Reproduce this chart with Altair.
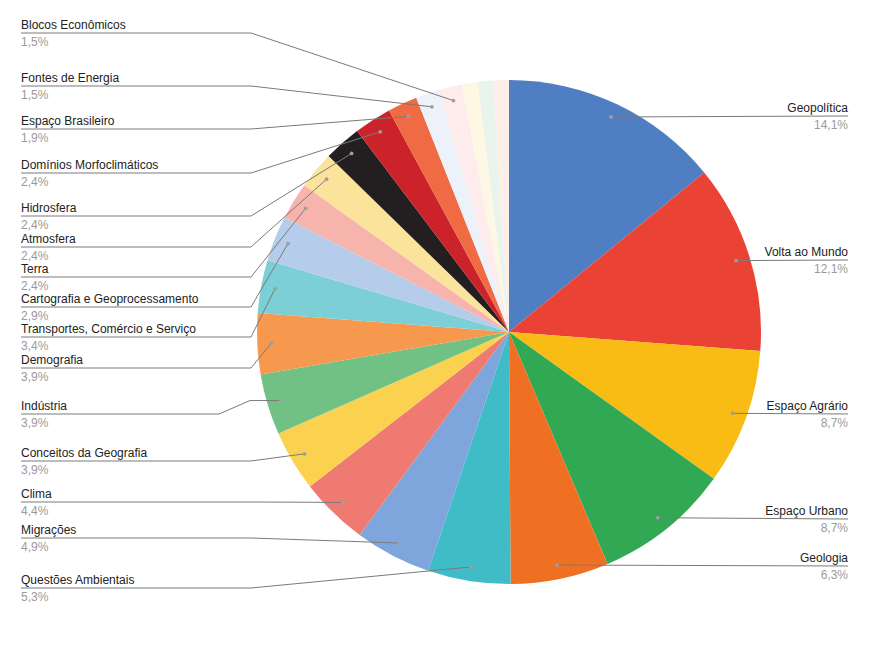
import math
import altair as alt
import pandas as pd

# ---- data ----
categories = [
    "Geopolítica", "Volta ao Mundo", "Espaço Agrário", "Espaço Urbano", "Geologia",
    "Questões Ambientais", "Migrações", "Clima", "Conceitos da Geografia", "Indústria",
    "Demografia", "Transportes, Comércio e Serviço", "Cartografia e Geoprocessamento",
    "Terra", "Atmosfera", "Hidrosfera", "Domínios Morfoclimáticos", "Espaço Brasileiro",
    "Fontes de Energia", "Blocos Econômicos", "Outro A", "Outro B", "Outro C",
]
values = [14.1, 12.1, 8.7, 8.7, 6.3, 5.3, 4.9, 4.4, 3.9, 3.9, 3.9, 3.4, 2.9,
          2.4, 2.4, 2.4, 2.4, 1.9, 1.5, 1.5, 1.0, 1.0, 1.0]
pct_labels = ["14,1%", "12,1%", "8,7%", "8,7%", "6,3%", "5,3%", "4,9%", "4,4%", "3,9%",
              "3,9%", "3,9%", "3,4%", "2,9%", "2,4%", "2,4%", "2,4%", "2,4%", "1,9%",
              "1,5%", "1,5%", "", "", ""]
colors = ["#507ec2", "#ea4335", "#f9bc15", "#31a853", "#f07023", "#40bcc6", "#7fa6dc",
          "#ef7a72", "#fbd24f", "#71c185", "#f6994f", "#7ccfd4", "#b6cceb", "#f6b4ad",
          "#fbe39c", "#231f20", "#cc2229", "#f06a43", "#edf1f9", "#fdeceb", "#fef7e4",
          "#e9f4ec", "#fdefe7"]

# label layout (side, underline y, elbow x for left labels)
label_side = ["R", "R", "R", "R", "R", "L", "L", "L", "L", "L", "L", "L", "L",
              "L", "L", "L", "L", "L", "L", "L", None, None, None]
label_y = [116, 260, 414, 519, 566, 588, 538, 502, 461, 414, 368, 337, 307,
           277, 247, 216, 173, 129, 86, 33, None, None, None]
elbow_x = [None, None, None, None, None, 251, 251, 251, 251, 219, 251, 251, 251,
           251, 251, 251, 251, 251, 251, 251, None, None, None]

# ---- layout ----
W, H = 884, 650
CX, CY, R = 509, 332, 252
DOT_R = 238
LEFT_X, RIGHT_X = 21, 848

df = pd.DataFrame({"cat": categories, "value": values, "order": range(len(values))})

# dot positions from cumulative slice angles
total = sum(values)
cum = 0.0
dots, lines, names, pcts = [], [], [], []
for i, (c, v) in enumerate(zip(categories, values)):
    mid = (cum + v / 2) / total * 2 * math.pi
    cum += v
    if label_side[i] is None:
        continue
    dx = CX + DOT_R * math.sin(mid)
    dy = CY - DOT_R * math.cos(mid)
    yu = label_y[i]
    dots.append({"x": dx, "y": dy})
    if label_side[i] == "L":
        ex = elbow_x[i]
        pts = [(LEFT_X, yu), (ex, yu)]
        if ex < 240:
            pts.append((250, dy))
        pts.append((dx, dy))
        tx, align = LEFT_X, "left"
    else:
        pts = [(dx, dy), (RIGHT_X, yu)]
        tx, align = RIGHT_X, "right"
    for k, (px, py) in enumerate(pts):
        lines.append({"id": c, "k": k, "x": px, "y": py})
    names.append({"x": tx, "y": yu - 4, "t": c, "align": align})
    pcts.append({"x": tx, "y": yu + 13, "t": pct_labels[i], "align": align})

dots_df = pd.DataFrame(dots)
lines_df = pd.DataFrame(lines)
names_df = pd.DataFrame(names)
pcts_df = pd.DataFrame(pcts)

pie = alt.Chart(df).mark_arc(outerRadius=R).encode(
    theta=alt.Theta("value:Q", stack=True),
    color=alt.Color("cat:N", scale=alt.Scale(domain=categories, range=colors), legend=None),
    order=alt.Order("order:Q"),
    x=alt.value(CX),
    y=alt.value(CY),
)

leader = alt.Chart(lines_df).mark_line(color="#7a7a7a", strokeWidth=1).encode(
    x=alt.X("x:Q", scale=None, axis=None),
    y=alt.Y("y:Q", scale=None, axis=None),
    detail="id:N",
    order="k:Q",
)

dot = alt.Chart(dots_df).mark_circle(color="#9e9e9e", opacity=1, size=14).encode(
    x=alt.X("x:Q", scale=None, axis=None),
    y=alt.Y("y:Q", scale=None, axis=None),
)

def text_layer(d, align, color):
    return alt.Chart(d[d["align"] == align]).mark_text(
        align=align, baseline="alphabetic", font="Liberation Sans", fontSize=12, color=color
    ).encode(
        x=alt.X("x:Q", scale=None, axis=None),
        y=alt.Y("y:Q", scale=None, axis=None),
        text="t:N",
    )

chart = alt.layer(
    pie, leader, dot,
    text_layer(names_df, "left", "#222222"), text_layer(names_df, "right", "#222222"),
    text_layer(pcts_df, "left", "#9a9a9a"), text_layer(pcts_df, "right", "#9a9a9a"),
).properties(
    width=W, height=H, padding=0, autosize=alt.AutoSizeParams(type="none"),
    background="white",
).configure_view(stroke=None)

chart.save("out.html", embed_options={"renderer": "svg", "actions": False})
